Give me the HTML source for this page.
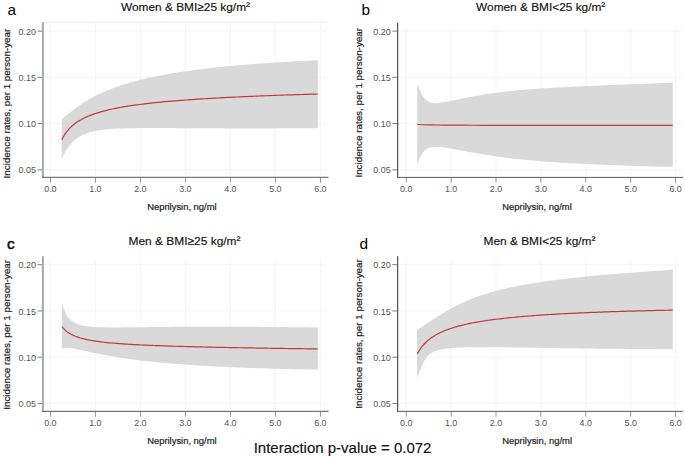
<!DOCTYPE html><html><head><meta charset="utf-8"><style>html,body{margin:0;padding:0;background:#fff;width:685px;height:458px;overflow:hidden}svg{display:block}</style></head><body>
<svg width="685" height="458" viewBox="0 0 685 458" font-family="'Liberation Sans', sans-serif">
<rect width="685" height="458" fill="#fff"/>
<rect x="42.90" y="30.60" width="283.80" height="1" fill="#f5f5f5"/>
<rect x="42.90" y="76.85" width="283.80" height="1" fill="#f5f5f5"/>
<rect x="42.90" y="123.10" width="283.80" height="1" fill="#f5f5f5"/>
<rect x="42.90" y="169.35" width="283.80" height="1" fill="#f5f5f5"/>
<rect x="49.90" y="22.00" width="1" height="155.30" fill="#f5f5f5"/>
<rect x="94.90" y="22.00" width="1" height="155.30" fill="#f5f5f5"/>
<rect x="139.90" y="22.00" width="1" height="155.30" fill="#f5f5f5"/>
<rect x="184.90" y="22.00" width="1" height="155.30" fill="#f5f5f5"/>
<rect x="229.90" y="22.00" width="1" height="155.30" fill="#f5f5f5"/>
<rect x="274.90" y="22.00" width="1" height="155.30" fill="#f5f5f5"/>
<rect x="319.90" y="22.00" width="1" height="155.30" fill="#f5f5f5"/>
<rect x="42.90" y="21.70" width="283.80" height="1" fill="#ebebeb"/>
<path d="M61.80,118.98 L62.26,118.69 L62.75,118.36 L63.25,118.01 L63.77,117.62 L64.32,117.21 L64.89,116.77 L65.04,116.64 L65.48,116.30 L66.09,115.80 L66.73,115.28 L67.40,114.73 L68.09,114.16 L68.28,114.01 L68.81,113.57 L69.56,112.95 L70.34,112.32 L71.15,111.66 L71.52,111.36 L72.00,110.98 L72.88,110.28 L73.79,109.56 L74.75,108.83 L74.76,108.82 L75.74,108.08 L76.77,107.31 L77.85,106.52 L78.00,106.41 L78.97,105.72 L80.13,104.91 L81.24,104.15 L81.34,104.08 L82.60,103.24 L83.91,102.39 L84.48,102.03 L85.28,101.53 L86.70,100.66 L87.72,100.04 L88.18,99.78 L89.72,98.89 L90.96,98.18 L91.32,97.99 L92.99,97.08 L94.21,96.44 L94.72,96.17 L96.53,95.25 L97.45,94.80 L98.41,94.33 L100.37,93.40 L100.69,93.26 L102.40,92.48 L103.93,91.80 L104.52,91.54 L106.73,90.61 L107.17,90.43 L109.02,89.68 L110.41,89.13 L111.41,88.74 L113.65,87.90 L113.90,87.81 L116.48,86.87 L116.89,86.73 L119.18,85.94 L120.13,85.62 L121.98,85.02 L123.37,84.57 L124.89,84.09 L126.61,83.57 L127.93,83.17 L129.85,82.61 L131.09,82.26 L133.09,81.70 L134.38,81.35 L136.33,80.83 L137.80,80.45 L139.57,80.00 L141.36,79.56 L142.81,79.21 L145.07,78.67 L146.05,78.44 L148.92,77.80 L149.29,77.71 L152.53,77.02 L152.94,76.93 L155.77,76.34 L157.12,76.08 L159.02,75.70 L161.46,75.23 L162.26,75.08 L165.50,74.49 L165.99,74.40 L168.74,73.91 L170.70,73.58 L171.98,73.36 L175.22,72.83 L175.60,72.77 L178.46,72.32 L180.70,71.97 L181.70,71.82 L184.94,71.34 L186.01,71.19 L188.18,70.88 L191.42,70.43 L191.54,70.42 L194.66,70.00 L197.29,69.66 L197.90,69.58 L201.14,69.18 L203.27,68.92 L204.38,68.79 L207.62,68.41 L209.50,68.19 L210.86,68.04 L214.10,67.68 L215.99,67.48 L217.34,67.33 L220.58,66.99 L222.73,66.78 L223.83,66.67 L227.07,66.35 L229.75,66.09 L230.31,66.04 L233.55,65.74 L236.79,65.45 L237.06,65.42 L240.03,65.16 L243.27,64.89 L244.67,64.77 L246.51,64.62 L249.75,64.36 L252.58,64.13 L252.99,64.10 L256.23,63.85 L259.47,63.61 L260.82,63.51 L262.71,63.37 L265.95,63.14 L269.19,62.92 L269.40,62.91 L272.43,62.70 L275.67,62.49 L278.32,62.32 L278.91,62.28 L282.15,62.08 L285.39,61.88 L287.61,61.75 L288.64,61.69 L291.88,61.50 L295.12,61.32 L297.27,61.20 L298.36,61.14 L301.60,60.96 L304.84,60.79 L307.33,60.66 L308.08,60.62 L311.32,60.46 L314.56,60.30 L317.80,60.15 L317.80,128.13 L314.56,128.16 L311.32,128.18 L308.08,128.20 L307.33,128.21 L304.84,128.22 L301.60,128.25 L298.36,128.26 L297.27,128.27 L295.12,128.28 L291.88,128.30 L288.64,128.32 L287.61,128.32 L285.39,128.33 L282.15,128.34 L278.91,128.36 L278.32,128.36 L275.67,128.37 L272.43,128.38 L269.40,128.39 L269.19,128.39 L265.95,128.39 L262.71,128.40 L260.82,128.40 L259.47,128.40 L256.23,128.41 L252.99,128.41 L252.58,128.41 L249.75,128.41 L246.51,128.41 L244.67,128.41 L243.27,128.41 L240.03,128.40 L237.06,128.40 L236.79,128.40 L233.55,128.39 L230.31,128.39 L229.75,128.38 L227.07,128.38 L223.83,128.37 L222.73,128.36 L220.58,128.36 L217.34,128.34 L215.99,128.34 L214.10,128.33 L210.86,128.32 L209.50,128.31 L207.62,128.30 L204.38,128.28 L203.27,128.28 L201.14,128.27 L197.90,128.25 L197.29,128.25 L194.66,128.23 L191.54,128.21 L191.42,128.21 L188.18,128.19 L186.01,128.18 L184.94,128.17 L181.70,128.15 L180.70,128.15 L178.46,128.13 L175.60,128.11 L175.22,128.11 L171.98,128.09 L170.70,128.09 L168.74,128.08 L165.99,128.06 L165.50,128.06 L162.26,128.05 L161.46,128.05 L159.02,128.04 L157.12,128.03 L155.77,128.03 L152.94,128.03 L152.53,128.03 L149.29,128.03 L148.92,128.03 L146.05,128.04 L145.07,128.04 L142.81,128.05 L141.36,128.06 L139.57,128.08 L137.80,128.09 L136.33,128.11 L134.38,128.14 L133.09,128.16 L131.09,128.19 L129.85,128.22 L127.93,128.26 L126.61,128.29 L124.89,128.34 L123.37,128.39 L121.98,128.44 L120.13,128.52 L119.18,128.56 L116.89,128.67 L116.48,128.69 L113.90,128.84 L113.65,128.86 L111.41,129.01 L110.41,129.09 L109.02,129.20 L107.17,129.37 L106.73,129.41 L104.52,129.65 L103.93,129.72 L102.40,129.90 L100.69,130.14 L100.37,130.18 L98.41,130.49 L97.45,130.65 L96.53,130.82 L94.72,131.18 L94.21,131.29 L92.99,131.56 L91.32,131.98 L90.96,132.07 L89.72,132.42 L88.18,132.90 L87.72,133.05 L86.70,133.40 L85.28,133.94 L84.48,134.27 L83.91,134.51 L82.60,135.11 L81.34,135.74 L81.24,135.79 L80.13,136.39 L78.97,137.08 L78.00,137.69 L77.85,137.79 L76.77,138.54 L75.74,139.31 L74.76,140.09 L74.75,140.10 L73.79,140.93 L72.88,141.78 L72.00,142.65 L71.52,143.15 L71.15,143.55 L70.34,144.47 L69.56,145.42 L68.81,146.39 L68.28,147.12 L68.09,147.39 L67.40,148.41 L66.73,149.44 L66.09,150.51 L65.48,151.59 L65.04,152.40 L64.89,152.69 L64.32,153.81 L63.77,154.95 L63.25,156.11 L62.75,157.29 L62.26,158.49 L61.80,159.71 Z" fill="#d9d9d9"/>
<path d="M61.80,139.80 L62.26,138.86 L62.75,137.92 L63.25,137.00 L63.77,136.09 L64.32,135.19 L64.89,134.30 L65.04,134.07 L65.48,133.43 L66.09,132.56 L66.73,131.71 L67.40,130.87 L68.09,130.04 L68.28,129.81 L68.81,129.22 L69.56,128.41 L70.34,127.61 L71.15,126.82 L71.52,126.48 L72.00,126.05 L72.88,125.28 L73.79,124.52 L74.75,123.78 L74.76,123.77 L75.74,123.04 L76.77,122.32 L77.85,121.60 L78.00,121.50 L78.97,120.89 L80.13,120.20 L81.24,119.57 L81.34,119.51 L82.60,118.83 L83.91,118.17 L84.48,117.89 L85.28,117.51 L86.70,116.86 L87.72,116.41 L88.18,116.22 L89.72,115.59 L90.96,115.10 L91.32,114.97 L92.99,114.36 L94.21,113.93 L94.72,113.75 L96.53,113.16 L97.45,112.87 L98.41,112.57 L100.37,111.99 L100.69,111.90 L102.40,111.42 L103.93,111.01 L104.52,110.86 L106.73,110.31 L107.17,110.20 L109.02,109.76 L110.41,109.44 L111.41,109.22 L113.65,108.74 L113.90,108.69 L116.48,108.17 L116.89,108.09 L119.18,107.66 L120.13,107.48 L121.98,107.15 L123.37,106.91 L124.89,106.65 L126.61,106.37 L127.93,106.16 L129.85,105.86 L131.09,105.67 L133.09,105.38 L134.38,105.20 L136.33,104.92 L137.80,104.72 L139.57,104.49 L141.36,104.26 L142.81,104.08 L145.07,103.80 L146.05,103.69 L148.92,103.35 L149.29,103.31 L152.53,102.95 L152.94,102.91 L155.77,102.61 L157.12,102.47 L159.02,102.28 L161.46,102.04 L162.26,101.97 L165.50,101.66 L165.99,101.62 L168.74,101.37 L170.70,101.20 L171.98,101.09 L175.22,100.82 L175.60,100.79 L178.46,100.56 L180.70,100.38 L181.70,100.30 L184.94,100.06 L186.01,99.98 L188.18,99.82 L191.42,99.60 L191.54,99.59 L194.66,99.37 L197.29,99.20 L197.90,99.16 L201.14,98.95 L203.27,98.82 L204.38,98.75 L207.62,98.55 L209.50,98.44 L210.86,98.36 L214.10,98.17 L215.99,98.07 L217.34,97.99 L220.58,97.81 L222.73,97.70 L223.83,97.64 L227.07,97.47 L229.75,97.34 L230.31,97.31 L233.55,97.15 L236.79,97.00 L237.06,96.98 L240.03,96.84 L243.27,96.69 L244.67,96.63 L246.51,96.55 L249.75,96.41 L252.58,96.28 L252.99,96.27 L256.23,96.13 L259.47,96.00 L260.82,95.94 L262.71,95.87 L265.95,95.74 L269.19,95.61 L269.40,95.61 L272.43,95.49 L275.67,95.37 L278.32,95.27 L278.91,95.25 L282.15,95.14 L285.39,95.02 L287.61,94.95 L288.64,94.91 L291.88,94.80 L295.12,94.69 L297.27,94.62 L298.36,94.59 L301.60,94.48 L304.84,94.38 L307.33,94.30 L308.08,94.28 L311.32,94.18 L314.56,94.08 L317.80,93.99" fill="none" stroke="#c4363a" stroke-width="1.2" stroke-linejoin="round"/>
<rect x="41.90" y="22.20" width="2.00" height="155.70" fill="#a8a8a8"/>
<rect x="41.90" y="176.80" width="286.60" height="1.1" fill="#666"/>
<rect x="37.60" y="30.60" width="4.30" height="1" fill="#808080"/>
<rect x="37.60" y="76.85" width="4.30" height="1" fill="#808080"/>
<rect x="37.60" y="123.10" width="4.30" height="1" fill="#808080"/>
<rect x="37.60" y="169.35" width="4.30" height="1" fill="#808080"/>
<rect x="49.95" y="177.90" width="0.9" height="4.8" fill="#888"/>
<rect x="94.95" y="177.90" width="0.9" height="4.8" fill="#888"/>
<rect x="139.95" y="177.90" width="0.9" height="4.8" fill="#888"/>
<rect x="184.95" y="177.90" width="0.9" height="4.8" fill="#888"/>
<rect x="229.95" y="177.90" width="0.9" height="4.8" fill="#888"/>
<rect x="274.95" y="177.90" width="0.9" height="4.8" fill="#888"/>
<rect x="319.95" y="177.90" width="0.9" height="4.8" fill="#888"/>
<text x="36.00" y="34.65" font-size="9.7" fill="#555" text-anchor="end" textLength="17.5" lengthAdjust="spacingAndGlyphs">0.20</text>
<text x="36.00" y="80.90" font-size="9.7" fill="#555" text-anchor="end" textLength="17.5" lengthAdjust="spacingAndGlyphs">0.15</text>
<text x="36.00" y="127.15" font-size="9.7" fill="#555" text-anchor="end" textLength="17.5" lengthAdjust="spacingAndGlyphs">0.10</text>
<text x="36.00" y="173.40" font-size="9.7" fill="#555" text-anchor="end" textLength="17.5" lengthAdjust="spacingAndGlyphs">0.05</text>
<text x="50.40" y="191.90" font-size="9.8" fill="#555" text-anchor="middle" textLength="12.4" lengthAdjust="spacingAndGlyphs">0.0</text>
<text x="95.40" y="191.90" font-size="9.8" fill="#555" text-anchor="middle" textLength="12.4" lengthAdjust="spacingAndGlyphs">1.0</text>
<text x="140.40" y="191.90" font-size="9.8" fill="#555" text-anchor="middle" textLength="12.4" lengthAdjust="spacingAndGlyphs">2.0</text>
<text x="185.40" y="191.90" font-size="9.8" fill="#555" text-anchor="middle" textLength="12.4" lengthAdjust="spacingAndGlyphs">3.0</text>
<text x="230.40" y="191.90" font-size="9.8" fill="#555" text-anchor="middle" textLength="12.4" lengthAdjust="spacingAndGlyphs">4.0</text>
<text x="275.40" y="191.90" font-size="9.8" fill="#555" text-anchor="middle" textLength="12.4" lengthAdjust="spacingAndGlyphs">5.0</text>
<text x="320.40" y="191.90" font-size="9.8" fill="#555" text-anchor="middle" textLength="12.4" lengthAdjust="spacingAndGlyphs">6.0</text>
<text x="121.00" y="11.20" font-size="11.4" fill="#111" stroke="#111" stroke-width="0.15" textLength="129.00" lengthAdjust="spacingAndGlyphs">Women &amp; BMI≥25 kg/m<tspan dy="-1.2">²</tspan></text>
<text x="7.40" y="14.90" font-size="15.4" fill="#000">a</text>
<text x="147.20" y="209.60" font-size="8.9" fill="#222" stroke="#222" stroke-width="0.2" textLength="69.40" lengthAdjust="spacingAndGlyphs">Neprilysin, ng/ml</text>
<text transform="translate(10.40 178.40) rotate(-90)" x="0" y="0" font-size="9.8" fill="#1a1a1a" stroke="#1a1a1a" stroke-width="0.2" textLength="149.70" lengthAdjust="spacingAndGlyphs">Incidence rates, per 1 person-year</text>
<rect x="397.60" y="30.60" width="284.80" height="1" fill="#f5f5f5"/>
<rect x="397.60" y="76.85" width="284.80" height="1" fill="#f5f5f5"/>
<rect x="397.60" y="123.10" width="284.80" height="1" fill="#f5f5f5"/>
<rect x="397.60" y="169.35" width="284.80" height="1" fill="#f5f5f5"/>
<rect x="405.70" y="27.80" width="1" height="149.60" fill="#f5f5f5"/>
<rect x="450.60" y="27.80" width="1" height="149.60" fill="#f5f5f5"/>
<rect x="495.50" y="27.80" width="1" height="149.60" fill="#f5f5f5"/>
<rect x="540.40" y="27.80" width="1" height="149.60" fill="#f5f5f5"/>
<rect x="585.30" y="27.80" width="1" height="149.60" fill="#f5f5f5"/>
<rect x="630.20" y="27.80" width="1" height="149.60" fill="#f5f5f5"/>
<rect x="675.10" y="27.80" width="1" height="149.60" fill="#f5f5f5"/>
<path d="M417.30,83.87 L417.30,83.87 L417.76,85.08 L418.23,86.30 L418.72,87.54 L419.24,88.79 L419.77,90.03 L420.33,91.25 L420.53,91.69 L420.91,92.46 L421.52,93.64 L422.14,94.78 L422.80,95.87 L423.48,96.91 L423.77,97.32 L424.19,97.89 L424.93,98.80 L425.70,99.62 L426.50,100.36 L427.00,100.76 L427.33,101.00 L428.20,101.55 L429.10,102.01 L430.04,102.39 L430.24,102.46 L431.02,102.69 L432.04,102.92 L433.10,103.07 L433.47,103.11 L434.21,103.16 L435.36,103.19 L436.55,103.16 L436.71,103.15 L437.80,103.08 L439.10,102.95 L439.94,102.85 L440.45,102.78 L441.85,102.57 L443.17,102.35 L443.32,102.33 L444.84,102.06 L446.41,101.76 L446.43,101.76 L448.08,101.43 L449.64,101.12 L449.80,101.09 L451.59,100.72 L452.88,100.45 L453.45,100.33 L455.39,99.92 L456.11,99.77 L457.41,99.50 L459.34,99.10 L459.52,99.06 L461.70,98.61 L462.58,98.43 L463.98,98.15 L465.81,97.78 L466.36,97.67 L468.83,97.19 L469.05,97.15 L471.40,96.70 L472.28,96.54 L474.07,96.21 L475.52,95.95 L476.86,95.71 L478.75,95.39 L479.76,95.21 L481.98,94.84 L482.78,94.71 L485.22,94.33 L485.93,94.22 L488.45,93.83 L489.20,93.72 L491.69,93.36 L492.61,93.23 L494.92,92.92 L496.16,92.75 L498.15,92.49 L499.85,92.28 L501.39,92.09 L503.69,91.81 L504.62,91.70 L507.70,91.36 L507.86,91.34 L511.09,91.00 L511.87,90.92 L514.33,90.67 L516.20,90.49 L517.56,90.36 L520.72,90.08 L520.79,90.07 L524.03,89.80 L525.42,89.68 L527.26,89.53 L530.32,89.29 L530.50,89.28 L533.73,89.04 L535.41,88.92 L536.96,88.81 L540.20,88.59 L540.72,88.55 L543.43,88.37 L546.24,88.20 L546.67,88.17 L549.90,87.97 L551.99,87.85 L553.14,87.78 L556.37,87.59 L557.98,87.50 L559.60,87.41 L562.84,87.24 L564.21,87.16 L566.07,87.07 L569.31,86.90 L570.70,86.83 L572.54,86.74 L575.77,86.58 L577.45,86.50 L579.01,86.42 L582.24,86.27 L584.48,86.17 L585.48,86.12 L588.71,85.97 L591.80,85.84 L591.95,85.83 L595.18,85.69 L598.41,85.55 L599.42,85.51 L601.65,85.41 L604.88,85.28 L607.36,85.18 L608.12,85.14 L611.35,85.01 L614.58,84.88 L615.62,84.84 L617.82,84.75 L621.05,84.63 L624.21,84.50 L624.29,84.50 L627.52,84.37 L630.76,84.25 L633.17,84.16 L633.99,84.13 L637.22,84.00 L640.46,83.88 L642.48,83.81 L643.69,83.76 L646.93,83.64 L650.16,83.52 L652.19,83.45 L653.39,83.41 L656.63,83.29 L659.86,83.17 L662.29,83.08 L663.10,83.05 L666.33,82.94 L669.57,82.82 L672.80,82.71 L672.80,166.86 L669.57,166.79 L666.33,166.72 L663.10,166.65 L662.29,166.63 L659.86,166.57 L656.63,166.49 L653.39,166.42 L652.19,166.38 L650.16,166.33 L646.93,166.25 L643.69,166.16 L642.48,166.13 L640.46,166.07 L637.22,165.98 L633.99,165.88 L633.17,165.86 L630.76,165.78 L627.52,165.68 L624.29,165.58 L624.21,165.57 L621.05,165.47 L617.82,165.35 L615.62,165.28 L614.58,165.24 L611.35,165.12 L608.12,164.99 L607.36,164.96 L604.88,164.87 L601.65,164.73 L599.42,164.64 L598.41,164.60 L595.18,164.46 L591.95,164.31 L591.80,164.30 L588.71,164.16 L585.48,164.00 L584.48,163.95 L582.24,163.84 L579.01,163.68 L577.45,163.59 L575.77,163.50 L572.54,163.32 L570.70,163.22 L569.31,163.14 L566.07,162.95 L564.21,162.84 L562.84,162.75 L559.60,162.55 L557.98,162.44 L556.37,162.33 L553.14,162.11 L551.99,162.03 L549.90,161.88 L546.67,161.65 L546.24,161.62 L543.43,161.40 L540.72,161.19 L540.20,161.15 L536.96,160.88 L535.41,160.75 L533.73,160.60 L530.50,160.32 L530.32,160.30 L527.26,160.02 L525.42,159.84 L524.03,159.71 L520.79,159.38 L520.72,159.37 L517.56,159.04 L516.20,158.90 L514.33,158.69 L511.87,158.41 L511.09,158.32 L507.86,157.94 L507.70,157.92 L504.62,157.53 L503.69,157.41 L501.39,157.11 L499.85,156.91 L498.15,156.68 L496.16,156.40 L494.92,156.22 L492.61,155.89 L491.69,155.75 L489.20,155.37 L488.45,155.26 L485.93,154.86 L485.22,154.75 L482.78,154.35 L481.98,154.22 L479.76,153.84 L478.75,153.67 L476.86,153.34 L475.52,153.11 L474.07,152.85 L472.28,152.53 L471.40,152.36 L469.05,151.93 L468.83,151.89 L466.36,151.43 L465.81,151.32 L463.98,150.97 L462.58,150.71 L461.70,150.54 L459.52,150.12 L459.34,150.09 L457.41,149.72 L456.11,149.47 L455.39,149.33 L453.45,148.97 L452.88,148.87 L451.59,148.63 L449.80,148.32 L449.64,148.29 L448.08,148.03 L446.43,147.76 L446.41,147.76 L444.84,147.53 L443.32,147.32 L443.17,147.31 L441.85,147.15 L440.45,147.01 L439.94,146.97 L439.10,146.91 L437.80,146.84 L436.71,146.82 L436.55,146.82 L435.36,146.83 L434.21,146.90 L433.47,146.96 L433.10,147.01 L432.04,147.16 L431.02,147.37 L430.24,147.58 L430.04,147.63 L429.10,147.95 L428.20,148.32 L427.33,148.75 L427.00,148.94 L426.50,149.25 L425.70,149.81 L424.93,150.43 L424.19,151.12 L423.77,151.56 L423.48,151.88 L422.80,152.72 L422.14,153.62 L421.52,154.61 L420.91,155.67 L420.53,156.40 L420.33,156.81 L419.77,158.04 L419.24,159.35 L418.72,160.74 L418.23,162.23 L417.76,163.81 L417.30,165.48 L417.30,165.48 Z" fill="#d9d9d9"/>
<path d="M417.30,124.49 L423.85,124.75 L430.40,124.91 L436.95,125.01 L443.51,125.08 L450.06,125.14 L456.61,125.18 L463.16,125.22 L469.71,125.25 L476.26,125.27 L482.81,125.29 L489.36,125.31 L495.92,125.33 L502.47,125.34 L509.02,125.35 L515.57,125.36 L522.12,125.37 L528.67,125.37 L535.22,125.38 L541.77,125.39 L548.33,125.39 L554.88,125.39 L561.43,125.40 L567.98,125.40 L574.53,125.40 L581.08,125.40 L587.63,125.41 L594.18,125.41 L600.74,125.41 L607.29,125.41 L613.84,125.41 L620.39,125.41 L626.94,125.41 L633.49,125.41 L640.04,125.41 L646.59,125.41 L653.15,125.41 L659.70,125.41 L666.25,125.41 L672.80,125.41" fill="none" stroke="#c4363a" stroke-width="1.2" stroke-linejoin="round"/>
<rect x="397.00" y="23.00" width="1.20" height="155.00" fill="#555555"/>
<rect x="397.00" y="176.90" width="286.00" height="1.1" fill="#666"/>
<rect x="392.30" y="30.60" width="4.70" height="1" fill="#808080"/>
<rect x="392.30" y="76.85" width="4.70" height="1" fill="#808080"/>
<rect x="392.30" y="123.10" width="4.70" height="1" fill="#808080"/>
<rect x="392.30" y="169.35" width="4.70" height="1" fill="#808080"/>
<rect x="405.75" y="178.00" width="0.9" height="4.8" fill="#888"/>
<rect x="450.65" y="178.00" width="0.9" height="4.8" fill="#888"/>
<rect x="495.55" y="178.00" width="0.9" height="4.8" fill="#888"/>
<rect x="540.45" y="178.00" width="0.9" height="4.8" fill="#888"/>
<rect x="585.35" y="178.00" width="0.9" height="4.8" fill="#888"/>
<rect x="630.25" y="178.00" width="0.9" height="4.8" fill="#888"/>
<rect x="675.15" y="178.00" width="0.9" height="4.8" fill="#888"/>
<text x="390.70" y="34.65" font-size="9.7" fill="#555" text-anchor="end" textLength="17.5" lengthAdjust="spacingAndGlyphs">0.20</text>
<text x="390.70" y="80.90" font-size="9.7" fill="#555" text-anchor="end" textLength="17.5" lengthAdjust="spacingAndGlyphs">0.15</text>
<text x="390.70" y="127.15" font-size="9.7" fill="#555" text-anchor="end" textLength="17.5" lengthAdjust="spacingAndGlyphs">0.10</text>
<text x="390.70" y="173.40" font-size="9.7" fill="#555" text-anchor="end" textLength="17.5" lengthAdjust="spacingAndGlyphs">0.05</text>
<text x="406.20" y="192.00" font-size="9.8" fill="#555" text-anchor="middle" textLength="12.4" lengthAdjust="spacingAndGlyphs">0.0</text>
<text x="451.10" y="192.00" font-size="9.8" fill="#555" text-anchor="middle" textLength="12.4" lengthAdjust="spacingAndGlyphs">1.0</text>
<text x="496.00" y="192.00" font-size="9.8" fill="#555" text-anchor="middle" textLength="12.4" lengthAdjust="spacingAndGlyphs">2.0</text>
<text x="540.90" y="192.00" font-size="9.8" fill="#555" text-anchor="middle" textLength="12.4" lengthAdjust="spacingAndGlyphs">3.0</text>
<text x="585.80" y="192.00" font-size="9.8" fill="#555" text-anchor="middle" textLength="12.4" lengthAdjust="spacingAndGlyphs">4.0</text>
<text x="630.70" y="192.00" font-size="9.8" fill="#555" text-anchor="middle" textLength="12.4" lengthAdjust="spacingAndGlyphs">5.0</text>
<text x="675.60" y="192.00" font-size="9.8" fill="#555" text-anchor="middle" textLength="12.4" lengthAdjust="spacingAndGlyphs">6.0</text>
<text x="476.10" y="11.20" font-size="11.4" fill="#111" stroke="#111" stroke-width="0.15" textLength="129.20" lengthAdjust="spacingAndGlyphs">Women &amp; BMI&lt;25 kg/m<tspan dy="-1.2">²</tspan></text>
<text x="361.50" y="14.90" font-size="15.4" fill="#000">b</text>
<text x="502.30" y="209.90" font-size="8.9" fill="#222" stroke="#222" stroke-width="0.2" textLength="69.50" lengthAdjust="spacingAndGlyphs">Neprilysin, ng/ml</text>
<text transform="translate(362.20 177.60) rotate(-90)" x="0" y="0" font-size="9.8" fill="#1a1a1a" stroke="#1a1a1a" stroke-width="0.2" textLength="149.60" lengthAdjust="spacingAndGlyphs">Incidence rates, per 1 person-year</text>
<rect x="42.90" y="264.20" width="281.70" height="1" fill="#f5f5f5"/>
<rect x="42.90" y="310.45" width="281.70" height="1" fill="#f5f5f5"/>
<rect x="42.90" y="356.70" width="281.70" height="1" fill="#f5f5f5"/>
<rect x="42.90" y="402.95" width="281.70" height="1" fill="#f5f5f5"/>
<rect x="49.90" y="258.80" width="1" height="152.50" fill="#f5f5f5"/>
<rect x="94.90" y="258.80" width="1" height="152.50" fill="#f5f5f5"/>
<rect x="139.90" y="258.80" width="1" height="152.50" fill="#f5f5f5"/>
<rect x="184.90" y="258.80" width="1" height="152.50" fill="#f5f5f5"/>
<rect x="229.90" y="258.80" width="1" height="152.50" fill="#f5f5f5"/>
<rect x="274.90" y="258.80" width="1" height="152.50" fill="#f5f5f5"/>
<rect x="319.90" y="258.80" width="1" height="152.50" fill="#f5f5f5"/>
<path d="M62.00,303.46 L62.47,305.08 L62.96,306.62 L63.47,308.09 L64.00,309.49 L64.55,310.81 L65.12,312.07 L65.24,312.31 L65.72,313.26 L66.34,314.38 L66.98,315.44 L67.66,316.44 L68.36,317.38 L68.48,317.53 L69.08,318.26 L69.84,319.08 L70.63,319.85 L71.45,320.57 L71.71,320.79 L72.30,321.24 L73.19,321.87 L74.11,322.44 L74.95,322.91 L75.07,322.97 L76.07,323.47 L77.11,323.92 L78.19,324.33 L78.19,324.33 L79.32,324.70 L80.49,325.05 L81.43,325.29 L81.71,325.36 L82.98,325.64 L84.30,325.89 L84.67,325.95 L85.67,326.11 L87.10,326.31 L87.90,326.41 L88.59,326.49 L90.14,326.65 L91.14,326.74 L91.75,326.79 L93.42,326.91 L94.38,326.97 L95.16,327.02 L96.98,327.11 L97.62,327.14 L98.87,327.19 L100.83,327.26 L100.86,327.26 L102.87,327.31 L104.09,327.34 L105.00,327.35 L107.21,327.39 L107.33,327.39 L109.51,327.41 L110.57,327.42 L111.91,327.42 L113.81,327.43 L114.40,327.43 L116.99,327.42 L117.05,327.42 L119.69,327.41 L120.28,327.41 L122.50,327.39 L123.52,327.38 L125.42,327.37 L126.76,327.35 L128.46,327.34 L130.00,327.32 L131.62,327.30 L133.24,327.28 L134.91,327.27 L136.47,327.25 L138.34,327.22 L139.71,327.21 L141.90,327.18 L142.95,327.17 L145.61,327.13 L146.19,327.13 L149.43,327.09 L149.47,327.09 L152.66,327.05 L153.48,327.04 L155.90,327.01 L157.66,326.99 L159.14,326.98 L162.00,326.94 L162.38,326.94 L165.62,326.91 L166.52,326.90 L168.85,326.88 L171.23,326.86 L172.09,326.85 L175.33,326.82 L176.13,326.82 L178.57,326.80 L181.22,326.78 L181.81,326.78 L185.04,326.76 L186.52,326.75 L188.28,326.74 L191.52,326.72 L192.04,326.72 L194.76,326.71 L197.77,326.70 L197.99,326.70 L201.23,326.69 L203.75,326.68 L204.47,326.68 L207.71,326.68 L209.96,326.68 L210.95,326.67 L214.18,326.67 L216.42,326.67 L217.42,326.68 L220.66,326.68 L223.15,326.68 L223.90,326.68 L227.14,326.69 L230.15,326.70 L230.37,326.70 L233.61,326.71 L236.85,326.72 L237.43,326.73 L240.09,326.74 L243.33,326.75 L245.01,326.76 L246.56,326.77 L249.80,326.79 L252.90,326.81 L253.04,326.81 L256.28,326.84 L259.52,326.86 L261.10,326.87 L262.75,326.88 L265.99,326.91 L269.23,326.94 L269.64,326.94 L272.47,326.97 L275.71,327.00 L278.52,327.03 L278.94,327.03 L282.18,327.07 L285.42,327.10 L287.76,327.13 L288.66,327.14 L291.90,327.18 L295.13,327.22 L297.38,327.24 L298.37,327.26 L301.61,327.30 L304.85,327.34 L307.39,327.37 L308.09,327.38 L311.32,327.43 L314.56,327.47 L317.80,327.52 L317.80,369.66 L314.56,369.61 L311.32,369.55 L308.09,369.49 L307.39,369.48 L304.85,369.43 L301.61,369.36 L298.37,369.30 L297.38,369.28 L295.13,369.23 L291.90,369.15 L288.66,369.08 L287.76,369.06 L285.42,369.00 L282.18,368.92 L278.94,368.84 L278.52,368.82 L275.71,368.75 L272.47,368.66 L269.64,368.58 L269.23,368.56 L265.99,368.47 L262.75,368.37 L261.10,368.31 L259.52,368.26 L256.28,368.16 L253.04,368.04 L252.90,368.04 L249.80,367.93 L246.56,367.81 L245.01,367.75 L243.33,367.69 L240.09,367.56 L237.43,367.45 L236.85,367.43 L233.61,367.29 L230.37,367.15 L230.15,367.14 L227.14,367.00 L223.90,366.85 L223.15,366.81 L220.66,366.69 L217.42,366.53 L216.42,366.48 L214.18,366.36 L210.95,366.19 L209.96,366.14 L207.71,366.01 L204.47,365.82 L203.75,365.78 L201.23,365.63 L197.99,365.43 L197.77,365.42 L194.76,365.23 L192.04,365.05 L191.52,365.01 L188.28,364.79 L186.52,364.67 L185.04,364.56 L181.81,364.33 L181.22,364.28 L178.57,364.08 L176.13,363.89 L175.33,363.82 L172.09,363.56 L171.23,363.49 L168.85,363.29 L166.52,363.08 L165.62,363.00 L162.38,362.71 L162.00,362.67 L159.14,362.40 L157.66,362.26 L155.90,362.08 L153.48,361.84 L152.66,361.75 L149.47,361.42 L149.43,361.41 L146.19,361.06 L145.61,360.99 L142.95,360.69 L141.90,360.56 L139.71,360.30 L138.34,360.13 L136.47,359.90 L134.91,359.70 L133.24,359.49 L131.62,359.27 L130.00,359.05 L128.46,358.84 L126.76,358.60 L125.42,358.41 L123.52,358.13 L122.50,357.98 L120.28,357.64 L119.69,357.55 L117.05,357.13 L116.99,357.12 L114.40,356.70 L113.81,356.60 L111.91,356.28 L110.57,356.05 L109.51,355.86 L107.33,355.47 L107.21,355.45 L105.00,355.04 L104.09,354.87 L102.87,354.64 L100.86,354.25 L100.83,354.25 L98.87,353.86 L97.62,353.61 L96.98,353.48 L95.16,353.10 L94.38,352.94 L93.42,352.73 L91.75,352.38 L91.14,352.25 L90.14,352.03 L88.59,351.69 L87.90,351.54 L87.10,351.36 L85.67,351.05 L84.67,350.82 L84.30,350.74 L82.98,350.45 L81.71,350.17 L81.43,350.11 L80.49,349.90 L79.32,349.65 L78.19,349.41 L78.19,349.41 L77.11,349.18 L76.07,348.98 L75.07,348.78 L74.95,348.76 L74.11,348.61 L73.19,348.45 L72.30,348.31 L71.71,348.22 L71.45,348.19 L70.63,348.08 L69.84,348.00 L69.08,347.93 L68.48,347.89 L68.36,347.89 L67.66,347.87 L66.98,347.86 L66.34,347.88 L65.72,347.93 L65.24,347.98 L65.12,347.99 L64.55,348.08 L64.00,348.20 L63.47,348.34 L62.96,348.50 L62.47,348.70 L62.00,348.91 Z" fill="#d9d9d9"/>
<path d="M62.00,326.57 L62.47,327.18 L62.96,327.78 L63.47,328.37 L64.00,328.94 L64.55,329.50 L65.12,330.04 L65.24,330.15 L65.72,330.58 L66.34,331.10 L66.98,331.61 L67.66,332.11 L68.36,332.60 L68.48,332.68 L69.08,333.07 L69.84,333.54 L70.63,333.99 L71.45,334.44 L71.71,334.58 L72.30,334.87 L73.19,335.29 L74.11,335.70 L74.95,336.06 L75.07,336.11 L76.07,336.50 L77.11,336.88 L78.19,337.25 L78.19,337.25 L79.32,337.62 L80.49,337.97 L81.43,338.24 L81.71,338.32 L82.98,338.66 L84.30,338.99 L84.67,339.07 L85.67,339.31 L87.10,339.62 L87.90,339.78 L88.59,339.92 L90.14,340.22 L91.14,340.40 L91.75,340.51 L93.42,340.79 L94.38,340.94 L95.16,341.06 L96.98,341.33 L97.62,341.42 L98.87,341.59 L100.83,341.85 L100.86,341.85 L102.87,342.09 L104.09,342.23 L105.00,342.33 L107.21,342.57 L107.33,342.58 L109.51,342.80 L110.57,342.90 L111.91,343.02 L113.81,343.19 L114.40,343.24 L116.99,343.45 L117.05,343.45 L119.69,343.66 L120.28,343.70 L122.50,343.86 L123.52,343.93 L125.42,344.06 L126.76,344.14 L128.46,344.25 L130.00,344.34 L131.62,344.44 L133.24,344.53 L134.91,344.62 L136.47,344.70 L138.34,344.80 L139.71,344.87 L141.90,344.98 L142.95,345.03 L145.61,345.15 L146.19,345.18 L149.43,345.32 L149.47,345.32 L152.66,345.45 L153.48,345.48 L155.90,345.58 L157.66,345.65 L159.14,345.70 L162.00,345.81 L162.38,345.82 L165.62,345.93 L166.52,345.96 L168.85,346.04 L171.23,346.12 L172.09,346.14 L175.33,346.24 L176.13,346.27 L178.57,346.34 L181.22,346.42 L181.81,346.43 L185.04,346.52 L186.52,346.56 L188.28,346.61 L191.52,346.70 L192.04,346.71 L194.76,346.78 L197.77,346.85 L197.99,346.86 L201.23,346.94 L203.75,347.00 L204.47,347.01 L207.71,347.09 L209.96,347.14 L210.95,347.16 L214.18,347.23 L216.42,347.28 L217.42,347.30 L220.66,347.37 L223.15,347.42 L223.90,347.43 L227.14,347.50 L230.15,347.56 L230.37,347.56 L233.61,347.62 L236.85,347.68 L237.43,347.69 L240.09,347.74 L243.33,347.80 L245.01,347.83 L246.56,347.86 L249.80,347.92 L252.90,347.97 L253.04,347.97 L256.28,348.03 L259.52,348.08 L261.10,348.11 L262.75,348.13 L265.99,348.19 L269.23,348.24 L269.64,348.24 L272.47,348.29 L275.71,348.34 L278.52,348.38 L278.94,348.39 L282.18,348.44 L285.42,348.48 L287.76,348.52 L288.66,348.53 L291.90,348.58 L295.13,348.63 L297.38,348.66 L298.37,348.67 L301.61,348.72 L304.85,348.76 L307.39,348.80 L308.09,348.81 L311.32,348.85 L314.56,348.90 L317.80,348.94" fill="none" stroke="#c4363a" stroke-width="1.2" stroke-linejoin="round"/>
<rect x="41.90" y="256.20" width="2.00" height="155.70" fill="#a8a8a8"/>
<rect x="41.90" y="410.80" width="286.60" height="1.1" fill="#666"/>
<rect x="37.60" y="264.20" width="4.30" height="1" fill="#808080"/>
<rect x="37.60" y="310.45" width="4.30" height="1" fill="#808080"/>
<rect x="37.60" y="356.70" width="4.30" height="1" fill="#808080"/>
<rect x="37.60" y="402.95" width="4.30" height="1" fill="#808080"/>
<rect x="49.95" y="411.90" width="0.9" height="4.8" fill="#888"/>
<rect x="94.95" y="411.90" width="0.9" height="4.8" fill="#888"/>
<rect x="139.95" y="411.90" width="0.9" height="4.8" fill="#888"/>
<rect x="184.95" y="411.90" width="0.9" height="4.8" fill="#888"/>
<rect x="229.95" y="411.90" width="0.9" height="4.8" fill="#888"/>
<rect x="274.95" y="411.90" width="0.9" height="4.8" fill="#888"/>
<rect x="319.95" y="411.90" width="0.9" height="4.8" fill="#888"/>
<text x="36.00" y="268.25" font-size="9.7" fill="#555" text-anchor="end" textLength="17.5" lengthAdjust="spacingAndGlyphs">0.20</text>
<text x="36.00" y="314.50" font-size="9.7" fill="#555" text-anchor="end" textLength="17.5" lengthAdjust="spacingAndGlyphs">0.15</text>
<text x="36.00" y="360.75" font-size="9.7" fill="#555" text-anchor="end" textLength="17.5" lengthAdjust="spacingAndGlyphs">0.10</text>
<text x="36.00" y="407.00" font-size="9.7" fill="#555" text-anchor="end" textLength="17.5" lengthAdjust="spacingAndGlyphs">0.05</text>
<text x="50.40" y="425.90" font-size="9.8" fill="#555" text-anchor="middle" textLength="12.4" lengthAdjust="spacingAndGlyphs">0.0</text>
<text x="95.40" y="425.90" font-size="9.8" fill="#555" text-anchor="middle" textLength="12.4" lengthAdjust="spacingAndGlyphs">1.0</text>
<text x="140.40" y="425.90" font-size="9.8" fill="#555" text-anchor="middle" textLength="12.4" lengthAdjust="spacingAndGlyphs">2.0</text>
<text x="185.40" y="425.90" font-size="9.8" fill="#555" text-anchor="middle" textLength="12.4" lengthAdjust="spacingAndGlyphs">3.0</text>
<text x="230.40" y="425.90" font-size="9.8" fill="#555" text-anchor="middle" textLength="12.4" lengthAdjust="spacingAndGlyphs">4.0</text>
<text x="275.40" y="425.90" font-size="9.8" fill="#555" text-anchor="middle" textLength="12.4" lengthAdjust="spacingAndGlyphs">5.0</text>
<text x="320.40" y="425.90" font-size="9.8" fill="#555" text-anchor="middle" textLength="12.4" lengthAdjust="spacingAndGlyphs">6.0</text>
<text x="128.50" y="245.20" font-size="11.4" fill="#111" stroke="#111" stroke-width="0.15" textLength="112.00" lengthAdjust="spacingAndGlyphs">Men &amp; BMI≥25 kg/m<tspan dy="-1.2">²</tspan></text>
<text x="6.90" y="248.90" font-size="15.4" fill="#000" stroke="#000" stroke-width="0.45">c</text>
<text x="147.20" y="443.60" font-size="8.9" fill="#222" stroke="#222" stroke-width="0.2" textLength="69.40" lengthAdjust="spacingAndGlyphs">Neprilysin, ng/ml</text>
<text transform="translate(10.40 409.80) rotate(-90)" x="0" y="0" font-size="9.8" fill="#1a1a1a" stroke="#1a1a1a" stroke-width="0.2" textLength="149.80" lengthAdjust="spacingAndGlyphs">Incidence rates, per 1 person-year</text>
<rect x="397.60" y="264.20" width="281.70" height="1" fill="#f5f5f5"/>
<rect x="397.60" y="310.45" width="281.70" height="1" fill="#f5f5f5"/>
<rect x="397.60" y="356.70" width="281.70" height="1" fill="#f5f5f5"/>
<rect x="397.60" y="402.95" width="281.70" height="1" fill="#f5f5f5"/>
<rect x="405.70" y="258.80" width="1" height="152.50" fill="#f5f5f5"/>
<rect x="450.60" y="258.80" width="1" height="152.50" fill="#f5f5f5"/>
<rect x="495.50" y="258.80" width="1" height="152.50" fill="#f5f5f5"/>
<rect x="540.40" y="258.80" width="1" height="152.50" fill="#f5f5f5"/>
<rect x="585.30" y="258.80" width="1" height="152.50" fill="#f5f5f5"/>
<rect x="630.20" y="258.80" width="1" height="152.50" fill="#f5f5f5"/>
<rect x="675.10" y="258.80" width="1" height="152.50" fill="#f5f5f5"/>
<path d="M417.10,329.48 L417.10,329.48 L417.55,329.28 L418.02,329.06 L418.51,328.82 L419.02,328.55 L419.54,328.26 L420.10,327.94 L420.34,327.80 L420.67,327.60 L421.27,327.23 L421.89,326.84 L422.54,326.43 L423.21,325.99 L423.57,325.75 L423.91,325.53 L424.65,325.04 L425.41,324.53 L426.20,324.00 L426.81,323.59 L427.03,323.44 L427.89,322.86 L428.78,322.26 L429.72,321.63 L430.05,321.41 L430.69,320.98 L431.70,320.31 L432.75,319.61 L433.28,319.26 L433.85,318.90 L434.99,318.15 L436.18,317.39 L436.52,317.17 L437.42,316.60 L438.71,315.80 L439.76,315.14 L440.05,314.97 L441.45,314.11 L442.90,313.24 L442.99,313.18 L444.42,312.34 L446.00,311.42 L446.23,311.28 L447.64,310.48 L449.35,309.52 L449.47,309.45 L451.13,308.53 L452.70,307.68 L452.99,307.53 L454.92,306.51 L455.94,305.98 L456.93,305.47 L459.03,304.42 L459.18,304.35 L461.21,303.37 L462.41,302.80 L463.48,302.30 L465.65,301.33 L465.85,301.24 L468.31,300.17 L468.89,299.93 L470.87,299.11 L472.12,298.61 L473.55,298.06 L475.36,297.36 L476.33,297.01 L478.60,296.19 L479.22,295.97 L481.83,295.08 L482.24,294.94 L485.07,294.03 L485.38,293.94 L488.31,293.04 L488.65,292.94 L491.54,292.11 L492.05,291.97 L494.78,291.22 L495.60,291.00 L498.02,290.38 L499.29,290.06 L501.25,289.57 L503.14,289.12 L504.49,288.81 L507.14,288.21 L507.73,288.07 L510.96,287.37 L511.31,287.30 L514.20,286.70 L515.65,286.41 L517.44,286.06 L520.17,285.54 L520.67,285.44 L523.91,284.85 L524.87,284.67 L527.15,284.27 L529.78,283.82 L530.38,283.72 L533.62,283.19 L534.88,282.99 L536.86,282.68 L540.09,282.18 L540.19,282.16 L543.33,281.70 L545.73,281.35 L546.57,281.23 L549.81,280.78 L551.49,280.55 L553.04,280.35 L556.28,279.92 L557.49,279.77 L559.52,279.51 L562.75,279.11 L563.74,278.99 L565.99,278.72 L569.23,278.34 L570.24,278.23 L572.46,277.98 L575.70,277.62 L577.02,277.47 L578.94,277.27 L582.17,276.93 L584.07,276.73 L585.41,276.60 L588.65,276.27 L591.42,276.00 L591.88,275.96 L595.12,275.65 L598.36,275.34 L599.07,275.28 L601.59,275.05 L604.83,274.76 L607.03,274.57 L608.07,274.48 L611.30,274.20 L614.54,273.93 L615.33,273.87 L617.78,273.67 L621.01,273.41 L623.96,273.18 L624.25,273.15 L627.49,272.90 L630.72,272.66 L632.96,272.49 L633.96,272.42 L637.20,272.18 L640.43,271.95 L642.32,271.82 L643.67,271.73 L646.91,271.50 L650.14,271.28 L652.07,271.16 L653.38,271.07 L656.62,270.86 L659.85,270.65 L662.23,270.50 L663.09,270.45 L666.33,270.25 L669.56,270.05 L672.80,269.85 L672.80,349.23 L669.56,349.21 L666.33,349.19 L663.09,349.18 L662.23,349.17 L659.85,349.16 L656.62,349.14 L653.38,349.12 L652.07,349.11 L650.14,349.09 L646.91,349.07 L643.67,349.05 L642.32,349.04 L640.43,349.03 L637.20,349.00 L633.96,348.97 L632.96,348.97 L630.72,348.95 L627.49,348.92 L624.25,348.89 L623.96,348.89 L621.01,348.86 L617.78,348.83 L615.33,348.81 L614.54,348.80 L611.30,348.77 L608.07,348.74 L607.03,348.72 L604.83,348.70 L601.59,348.67 L599.07,348.64 L598.36,348.63 L595.12,348.59 L591.88,348.56 L591.42,348.55 L588.65,348.52 L585.41,348.48 L584.07,348.46 L582.17,348.44 L578.94,348.40 L577.02,348.37 L575.70,348.35 L572.46,348.31 L570.24,348.28 L569.23,348.27 L565.99,348.22 L563.74,348.19 L562.75,348.17 L559.52,348.13 L557.49,348.10 L556.28,348.08 L553.04,348.03 L551.49,348.01 L549.81,347.98 L546.57,347.93 L545.73,347.92 L543.33,347.88 L540.19,347.83 L540.09,347.83 L536.86,347.78 L534.88,347.75 L533.62,347.73 L530.38,347.68 L529.78,347.67 L527.15,347.63 L524.87,347.59 L523.91,347.58 L520.67,347.53 L520.17,347.52 L517.44,347.48 L515.65,347.45 L514.20,347.43 L511.31,347.39 L510.96,347.38 L507.73,347.34 L507.14,347.33 L504.49,347.30 L503.14,347.28 L501.25,347.26 L499.29,347.23 L498.02,347.22 L495.60,347.20 L494.78,347.19 L492.05,347.17 L491.54,347.16 L488.65,347.14 L488.31,347.14 L485.38,347.13 L485.07,347.13 L482.24,347.13 L481.83,347.13 L479.22,347.13 L478.60,347.13 L476.33,347.15 L475.36,347.16 L473.55,347.17 L472.12,347.19 L470.87,347.21 L468.89,347.25 L468.31,347.26 L465.85,347.32 L465.65,347.33 L463.48,347.40 L462.41,347.43 L461.21,347.48 L459.18,347.58 L459.03,347.58 L456.93,347.70 L455.94,347.76 L454.92,347.83 L452.99,347.97 L452.70,348.00 L451.13,348.13 L449.47,348.30 L449.35,348.31 L447.64,348.51 L446.23,348.69 L446.00,348.72 L444.42,348.95 L442.99,349.18 L442.90,349.19 L441.45,349.46 L440.05,349.74 L439.76,349.81 L438.71,350.05 L437.42,350.38 L436.52,350.65 L436.18,350.75 L434.99,351.16 L433.85,351.62 L433.28,351.87 L432.75,352.13 L431.70,352.70 L430.69,353.35 L430.05,353.81 L429.72,354.06 L428.78,354.86 L427.89,355.75 L427.03,356.74 L426.81,357.01 L426.20,357.82 L425.41,359.02 L424.65,360.33 L423.91,361.75 L423.57,362.46 L423.21,363.24 L422.54,364.78 L421.89,366.34 L421.27,367.88 L420.67,369.38 L420.34,370.20 L420.10,370.80 L419.54,372.13 L419.02,373.37 L418.51,374.56 L418.02,375.70 L417.55,376.84 L417.10,377.98 L417.10,377.98 Z" fill="#d9d9d9"/>
<path d="M417.30,353.85 L417.30,353.85 L417.76,352.99 L418.23,352.14 L418.72,351.29 L419.24,350.46 L419.77,349.63 L420.33,348.80 L420.53,348.51 L420.91,347.99 L421.52,347.18 L422.14,346.38 L422.80,345.58 L423.48,344.80 L423.77,344.48 L424.19,344.02 L424.93,343.25 L425.70,342.48 L426.50,341.73 L427.00,341.27 L427.33,340.98 L428.20,340.24 L429.10,339.50 L430.04,338.77 L430.24,338.63 L431.02,338.06 L432.04,337.34 L433.10,336.64 L433.47,336.40 L434.21,335.94 L435.36,335.26 L436.55,334.58 L436.71,334.49 L437.80,333.90 L439.10,333.24 L439.94,332.82 L440.45,332.58 L441.85,331.93 L443.17,331.35 L443.32,331.29 L444.84,330.66 L446.41,330.04 L446.43,330.03 L448.08,329.41 L449.64,328.86 L449.80,328.80 L451.59,328.20 L452.88,327.79 L453.45,327.61 L455.39,327.02 L456.11,326.81 L457.41,326.45 L459.34,325.92 L459.52,325.88 L461.70,325.32 L462.58,325.10 L463.98,324.76 L465.81,324.34 L466.36,324.22 L468.83,323.68 L469.05,323.64 L471.40,323.15 L472.28,322.98 L474.07,322.63 L475.52,322.37 L476.86,322.12 L478.75,321.79 L479.76,321.62 L481.98,321.25 L482.78,321.13 L485.22,320.75 L485.93,320.64 L488.45,320.27 L489.20,320.16 L491.69,319.82 L492.61,319.69 L494.92,319.39 L496.16,319.23 L498.15,318.99 L499.85,318.78 L501.39,318.60 L503.69,318.34 L504.62,318.23 L507.70,317.90 L507.86,317.89 L511.09,317.55 L511.87,317.48 L514.33,317.24 L516.20,317.06 L517.56,316.93 L520.72,316.65 L520.79,316.64 L524.03,316.37 L525.42,316.25 L527.26,316.10 L530.32,315.86 L530.50,315.84 L533.73,315.60 L535.41,315.48 L536.96,315.36 L540.20,315.14 L540.72,315.10 L543.43,314.92 L546.24,314.74 L546.67,314.71 L549.90,314.51 L551.99,314.38 L553.14,314.31 L556.37,314.12 L557.98,314.03 L559.60,313.94 L562.84,313.77 L564.21,313.69 L566.07,313.60 L569.31,313.43 L570.70,313.37 L572.54,313.28 L575.77,313.12 L577.45,313.04 L579.01,312.97 L582.24,312.83 L584.48,312.73 L585.48,312.69 L588.71,312.56 L591.80,312.43 L591.95,312.43 L595.18,312.30 L598.41,312.18 L599.42,312.14 L601.65,312.06 L604.88,311.94 L607.36,311.85 L608.12,311.83 L611.35,311.72 L614.58,311.61 L615.62,311.58 L617.82,311.51 L621.05,311.41 L624.21,311.31 L624.29,311.31 L627.52,311.21 L630.76,311.12 L633.17,311.06 L633.99,311.03 L637.22,310.95 L640.46,310.86 L642.48,310.81 L643.69,310.78 L646.93,310.70 L650.16,310.62 L652.19,310.57 L653.39,310.54 L656.63,310.47 L659.86,310.39 L662.29,310.34 L663.10,310.32 L666.33,310.25 L669.57,310.19 L672.80,310.12" fill="none" stroke="#c4363a" stroke-width="1.2" stroke-linejoin="round"/>
<rect x="397.00" y="256.20" width="1.20" height="155.70" fill="#555555"/>
<rect x="397.00" y="410.80" width="286.00" height="1.1" fill="#666"/>
<rect x="392.30" y="264.20" width="4.70" height="1" fill="#808080"/>
<rect x="392.30" y="310.45" width="4.70" height="1" fill="#808080"/>
<rect x="392.30" y="356.70" width="4.70" height="1" fill="#808080"/>
<rect x="392.30" y="402.95" width="4.70" height="1" fill="#808080"/>
<rect x="405.75" y="411.90" width="0.9" height="4.8" fill="#888"/>
<rect x="450.65" y="411.90" width="0.9" height="4.8" fill="#888"/>
<rect x="495.55" y="411.90" width="0.9" height="4.8" fill="#888"/>
<rect x="540.45" y="411.90" width="0.9" height="4.8" fill="#888"/>
<rect x="585.35" y="411.90" width="0.9" height="4.8" fill="#888"/>
<rect x="630.25" y="411.90" width="0.9" height="4.8" fill="#888"/>
<rect x="675.15" y="411.90" width="0.9" height="4.8" fill="#888"/>
<text x="390.70" y="268.25" font-size="9.7" fill="#555" text-anchor="end" textLength="17.5" lengthAdjust="spacingAndGlyphs">0.20</text>
<text x="390.70" y="314.50" font-size="9.7" fill="#555" text-anchor="end" textLength="17.5" lengthAdjust="spacingAndGlyphs">0.15</text>
<text x="390.70" y="360.75" font-size="9.7" fill="#555" text-anchor="end" textLength="17.5" lengthAdjust="spacingAndGlyphs">0.10</text>
<text x="390.70" y="407.00" font-size="9.7" fill="#555" text-anchor="end" textLength="17.5" lengthAdjust="spacingAndGlyphs">0.05</text>
<text x="406.20" y="425.90" font-size="9.8" fill="#555" text-anchor="middle" textLength="12.4" lengthAdjust="spacingAndGlyphs">0.0</text>
<text x="451.10" y="425.90" font-size="9.8" fill="#555" text-anchor="middle" textLength="12.4" lengthAdjust="spacingAndGlyphs">1.0</text>
<text x="496.00" y="425.90" font-size="9.8" fill="#555" text-anchor="middle" textLength="12.4" lengthAdjust="spacingAndGlyphs">2.0</text>
<text x="540.90" y="425.90" font-size="9.8" fill="#555" text-anchor="middle" textLength="12.4" lengthAdjust="spacingAndGlyphs">3.0</text>
<text x="585.80" y="425.90" font-size="9.8" fill="#555" text-anchor="middle" textLength="12.4" lengthAdjust="spacingAndGlyphs">4.0</text>
<text x="630.70" y="425.90" font-size="9.8" fill="#555" text-anchor="middle" textLength="12.4" lengthAdjust="spacingAndGlyphs">5.0</text>
<text x="675.60" y="425.90" font-size="9.8" fill="#555" text-anchor="middle" textLength="12.4" lengthAdjust="spacingAndGlyphs">6.0</text>
<text x="483.50" y="245.20" font-size="11.4" fill="#111" stroke="#111" stroke-width="0.15" textLength="112.00" lengthAdjust="spacingAndGlyphs">Men &amp; BMI&lt;25 kg/m<tspan dy="-1.2">²</tspan></text>
<text x="359.40" y="249.00" font-size="15.4" fill="#000">d</text>
<text x="502.30" y="443.60" font-size="8.9" fill="#222" stroke="#222" stroke-width="0.2" textLength="69.70" lengthAdjust="spacingAndGlyphs">Neprilysin, ng/ml</text>
<text transform="translate(362.20 408.70) rotate(-90)" x="0" y="0" font-size="9.8" fill="#1a1a1a" stroke="#1a1a1a" stroke-width="0.2" textLength="149.50" lengthAdjust="spacingAndGlyphs">Incidence rates, per 1 person-year</text>
<text x="253.7" y="453" font-size="14.7" fill="#111" stroke="#111" stroke-width="0.15" textLength="177.7" lengthAdjust="spacingAndGlyphs">Interaction p-value = 0.072</text>
</svg></body></html>
